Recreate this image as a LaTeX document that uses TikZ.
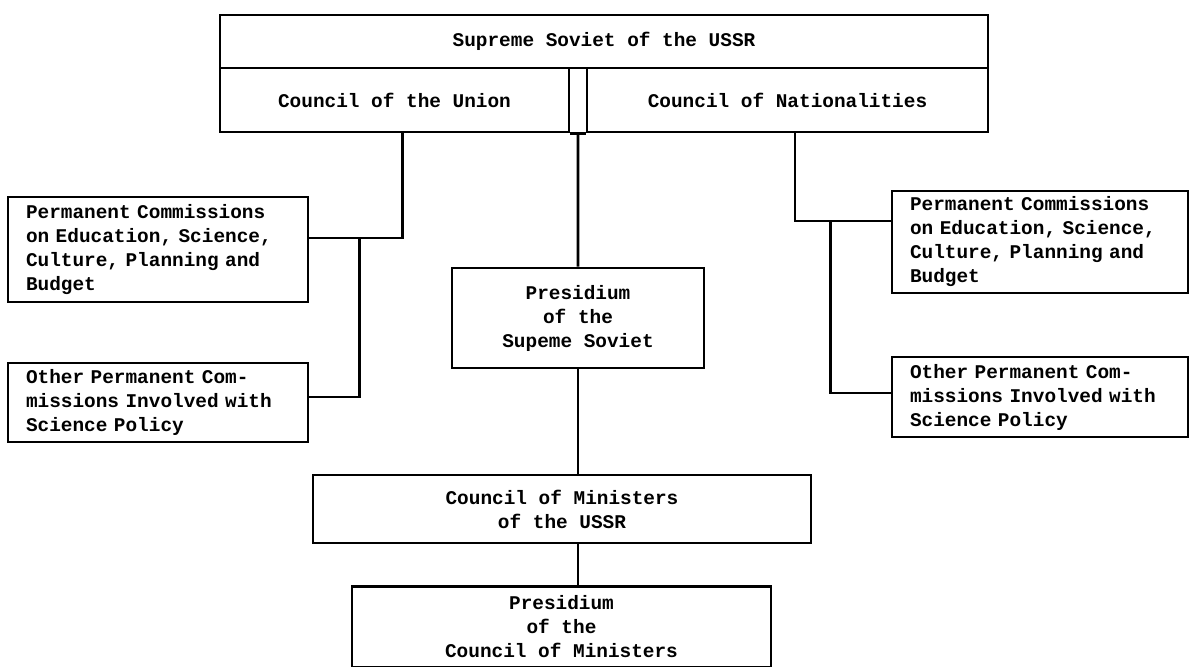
\documentclass[tikz,border=0pt]{standalone}
\usepackage{fontspec}
\setmonofont{Liberation Mono}
\usetikzlibrary{calc}
\tikzset{
  box/.style={draw, line width=1.4pt, inner sep=0pt, align=center,
    font=\ttfamily\bfseries\fontsize{9.7}{12}\selectfont},
  sidebox/.style={box, align=left, inner xsep=9pt}
}
\begin{document}
\begin{tikzpicture}[x=0.5pt, y=-0.5pt, line width=1.4pt]
            \useasboundingbox (0,0) rectangle (1194,667);

            \node [box, minimum width=384pt, minimum height=26.5pt] (sov) at (604,41.5)
            {Supreme Soviet of the USSR};
            \node [box, minimum width=174.5pt, minimum height=32pt] (union) at (394.5,100)
            {Council of the Union};
            \node [box, minimum width=200.5pt, minimum height=32pt] (nat) at (787.5,100)
            {Council of Nationalities};
            \draw (union.south east) -- (nat.south west);

            \node [sidebox, text width=132pt, minimum height=52.5pt] (pcl) at (158,249.5)
            {Permanent Commissions\\on Education, Science,\\Culture, Planning and\\Budget};
            \node [sidebox, text width=132pt, minimum height=39.5pt] (ocl) at (158,402.5)
            {Other Permanent Com-\\missions Involved with\\Science Policy};
            \node [sidebox, text width=130pt, minimum height=51pt] (pcr) at (1040,242)
            {Permanent Commissions\\on Education, Science,\\Culture, Planning and\\Budget};
            \node [sidebox, text width=130pt, minimum height=40pt] (ocr) at (1040,397)
            {Other Permanent Com-\\missions Involved with\\Science Policy};

            \node [box, minimum width=126pt, minimum height=50pt] (pres) at (578,318)
            {Presidium\\of the\\Supeme Soviet};
            \node [box, minimum width=249pt, minimum height=34pt] (com) at (562,509)
            {Council of Ministers\\of the USSR};
            \node [box, minimum width=209.5pt, minimum height=40.5pt] (pcom) at (561.5,627)
            {Presidium\\of the\\Council of Ministers};

            \coordinate (spine) at ($(union.south east)!0.5!(nat.south west)$);
            \draw (spine) -- (pres.north);
            \draw (pres.south) -- (pres.south |- com.north);
            \draw (pres.south |- com.south) -- (pres.south |- pcom.north);

            \coordinate (jl) at ($(pcl.east)+(25pt,5.75pt)$);
            \draw ([xshift=4pt]union.south) |- ([yshift=5.75pt]pcl.east);
            \draw (jl) |- ([yshift=2.75pt]ocl.east);

            \coordinate (jr) at ($(pcr.west)+(-30pt,10.5pt)$);
            \draw ([xshift=3.75pt]nat.south) |- ([yshift=10.5pt]pcr.west);
            \draw (jr) |- ([yshift=2pt]ocr.west);
\end{tikzpicture}
\end{document}
